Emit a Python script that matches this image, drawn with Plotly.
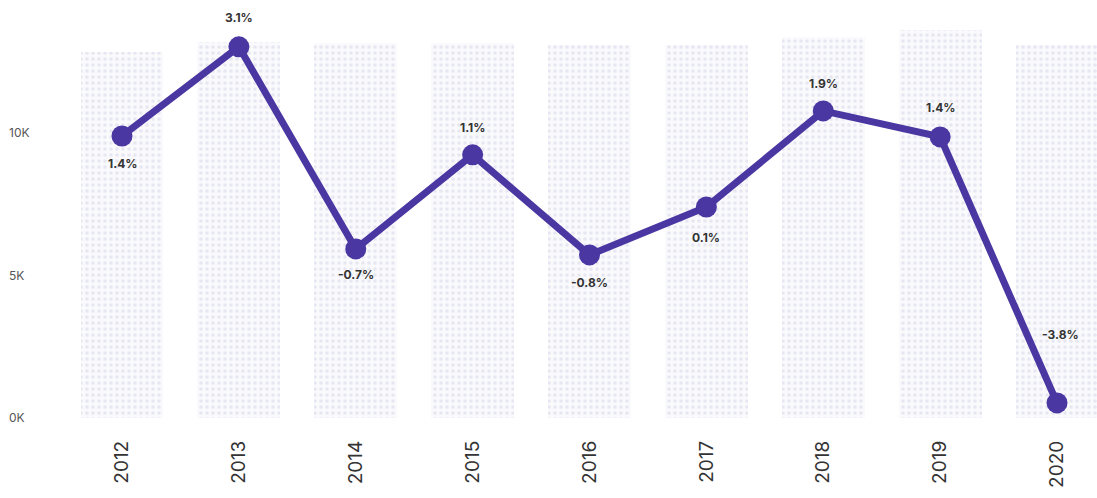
import plotly.graph_objects as go

# Yearly values (thousands) and the growth labels shown above/below each point
years = ["2012", "2013", "2014", "2015", "2016", "2017", "2018", "2019", "2020"]
values = [9.89, 13.02, 5.93, 9.23, 5.72, 7.40, 10.77, 9.86, 0.53]
growth = ["1.4%", "3.1%", "-0.7%", "1.1%", "-0.8%", "0.1%", "1.9%", "1.4%", "-3.8%"]
# Height of the dotted backdrop column behind each year
backdrop = [12.84, 13.2, 13.16, 13.16, 13.09, 13.09, 13.37, 13.6, 13.09]

x = list(range(len(years)))
purple = "#4a37a2"

fig = go.Figure()

fig.add_trace(go.Bar(
    x=x, y=backdrop, width=0.71,
    marker=dict(
        color="#fafafd",
        line=dict(width=0),
        pattern=dict(shape=".", fgcolor="#d4d4e6", bgcolor="#fafafd",
                     size=6, solidity=0.3),
    ),
    hoverinfo="skip", showlegend=False,
))

fig.add_trace(go.Scatter(
    x=x, y=values, mode="lines+markers",
    line=dict(color=purple, width=7),
    marker=dict(color=purple, size=21),
    showlegend=False,
))

# label offsets in pixels (negative = below the point)
shifts = [-27, 29, -26, 27, -28, -30, 27, 29, 68]
xshifts = [0, 0, 0, 0, 0, 0, 0, 0, 3]
for xi, v, g, s, xs in zip(x, values, growth, shifts, xshifts):
    fig.add_annotation(
        x=xi, y=v, text=f"<b>{g}</b>", showarrow=False,
        yshift=s, xshift=xs,
        font=dict(family="Inter, Lato, sans-serif", size=12, color="#333333"),
    )

fig.update_layout(
    width=1097, height=498,
    margin=dict(l=6, r=0, t=20, b=68),
    paper_bgcolor="white", plot_bgcolor="white",
    bargap=0,
    font=dict(family="Inter, Lato, sans-serif", color="#333333"),
    xaxis=dict(
        range=[-0.9925, 8.342],
        tickmode="array", tickvals=x, ticktext=years,
        tickangle=-90, showgrid=False, zeroline=False, showline=False,
        ticks="", ticklabelstandoff=6,
        tickfont=dict(size=19, color="#333333"),
    ),
    yaxis=dict(
        range=[-0.42, 13.96],
        tickmode="array", tickvals=[0, 5, 10], ticktext=["0K", "5K", "10K"],
        ticklabelposition="inside",
        showgrid=False, zeroline=False, showline=False, ticks="",
        tickfont=dict(size=12, color="#555555"),
    ),
)

fig.write_html("out.html")
